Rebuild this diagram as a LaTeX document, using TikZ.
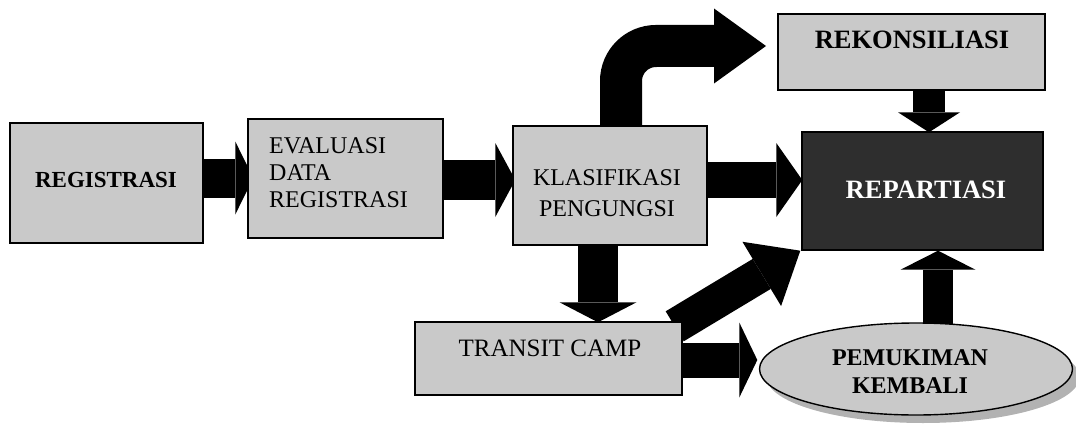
\documentclass[tikz,border=0pt]{standalone}
\usepackage{fontspec}
\setmainfont{Liberation Serif}
\usetikzlibrary{arrows.meta,calc,backgrounds,shapes.geometric}
\begin{document}
\begin{tikzpicture}[x=1pt,y=-1pt,
  box/.style={draw=black,line width=1.4pt,fill=gray!42,inner sep=0pt},
  txt/.style={inner sep=0pt,align=center},
  blk/.style={draw=black,line width=38pt,-{Triangle[width=75pt,length=19pt,line width=0pt]}},
]
\useasboundingbox (0,0) rectangle (1076,428);
% boxes
\node[box,minimum width=193pt,minimum height=120pt] (reg) at (106.5,183) {};
\node[box,minimum width=195pt,minimum height=119pt] (eval) at (345.5,178.5) {};
\node[box,minimum width=194pt,minimum height=119pt] (klas) at (610,185.5) {};
\node[box,minimum width=267pt,minimum height=76pt] (rek) at (911.5,52) {};
\node[box,fill=black!82,minimum width=241pt,minimum height=118pt] (rep) at (922.5,191) {};
\node[box,minimum width=267pt,minimum height=73pt] (transit) at (548.5,358.5) {};
\node[box,ellipse,minimum width=313pt,minimum height=92pt] (pem) at (916,369) {};
% texts
\node[txt,font={\fontsize{23pt}{27pt}\selectfont\bfseries},text height=15.2pt,text depth=0pt] (regtxt) at (106,180) {REGISTRASI};
\node[txt,align=left,anchor=north west,font={\fontsize{24pt}{27pt}\selectfont}] (evaltxt) at (269,137) {EVALUASI\\DATA\\REGISTRASI};
\node[txt,anchor=north,font={\fontsize{24pt}{31pt}\selectfont}] (klastxt) at (607,169) {KLASIFIKASI\\PENGUNGSI};
\node[txt,font={\fontsize{26.5pt}{30pt}\selectfont\bfseries},text height=17.5pt,text depth=0pt] (rektxt) at (912,40) {REKONSILIASI};
\node[txt,text=white,font={\fontsize{26.5pt}{30pt}\selectfont\bfseries},text height=17.5pt,text depth=0pt] (reptxt) at (926,190) {REPARTIASI};
\node[txt,font={\fontsize{25pt}{29pt}\selectfont},text height=16.5pt,text depth=0pt] (transittxt) at (550,348) {TRANSIT CAMP};
\node[txt,anchor=north,font={\fontsize{24pt}{28pt}\selectfont\bfseries}] (pemtxt) at (910,349) {PEMUKIMAN\\KEMBALI};
\coordinate (ctip) at (766,46);
\begin{scope}[on background layer]
  \fill[gray!60] ($(pem.center)+(7,8)$) ellipse [x radius=156.5pt, y radius=46pt];
  \draw[blk,line width=39pt,-{Triangle[width=73pt,length=18pt,line width=0pt]}]
    ($(reg.east)+(-2,-5)$) -- ($(eval.west)+(6,-0.5)$);
  \draw[blk,line width=40pt,-{Triangle[width=74pt,length=20pt,line width=0pt]}]
    ($(eval.east)+(-2,1.5)$) -- ($(klas.west)+(3,-5.5)$);
  \draw[blk,line width=36pt,-{Triangle[width=74pt,length=26pt,line width=0pt]}]
    ($(klas.east)+(-2,-5.5)$) -- ($(rep.west)+(1,-11)$);
  \draw[blk,line width=40pt,-{Triangle[width=77pt,length=20pt,line width=0pt]}]
    ($(klas.south)+(-12,-2)$) -- ($(transit.north)+(49.5,1)$);
  \draw[blk,line width=32pt,-{Triangle[width=62pt,length=20pt,line width=0pt]}]
    ($(rek.south)+(17.5,-2)$) -- ($(rep.north)+(6.5,1)$);
  \draw[blk,line width=30pt,-{Triangle[width=75pt,length=19pt,line width=0pt]}]
    ($(pem.north)+(22,3)$) -- ($(rep.south)+(15.5,0)$);
  \draw[blk,line width=35pt,-{Triangle[width=75pt,length=18pt,line width=0pt]}]
    ($(transit.east)+(-2,1.5)$) -- ($(pem.west)+(-1.5,-9)$);
  \draw[blk,line width=35pt,-{Triangle[width=75pt,length=45pt,line width=0pt]}]
    ($(transit.north east)+(-8,5)$) -- ($(rep.south west)+(-1,0)$);
  \draw[blk,line width=42pt,rounded corners=35pt,-{Triangle[width=75pt,length=52pt,line width=0pt]}]
    ($(klas.north)+(11,2)$) |- (ctip);
\end{scope}
\end{tikzpicture}
\end{document}
